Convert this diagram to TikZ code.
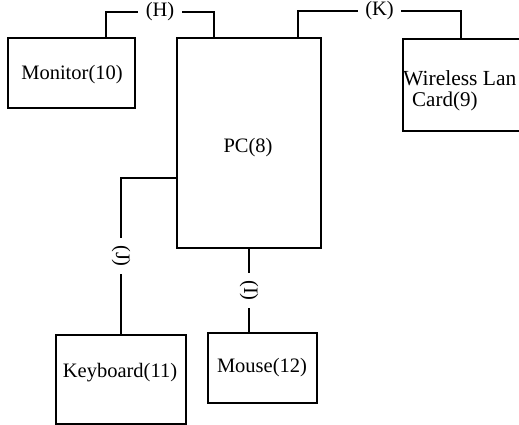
\documentclass[tikz,border=0pt]{standalone}
\usepackage{fontspec}
\setmainfont{Liberation Serif}
\begin{document}
\begin{tikzpicture}[x=1pt,y=-1pt,
  box/.style={draw,line width=1.9pt,rectangle,inner sep=0pt,font=\fontsize{20.5}{24}\selectfont},
  wire/.style={line width=1.9pt},
  lab/.style={fill=white,inner xsep=7.5pt,inner ysep=2pt,font=\fontsize{20.5}{24}\selectfont},
  txt/.style={inner sep=0pt,font=\fontsize{20.5}{24}\selectfont}]
\useasboundingbox (0,0) rectangle (519,425);
\clip (0,0) rectangle (519,425);
\node[box,minimum width=127pt,minimum height=70pt] (mon) at (71.5,73) {};
\node[txt] (mont) at (72,75) {Monitor(10)};
\node[box,minimum width=144pt,minimum height=210pt] (pc) at (249,143) {};
\node[txt] (pct) at (248,148) {PC(8)};
\node[box,minimum width=130pt,minimum height=92pt,anchor=north west] (wl) at (402,38) {};
\node[txt,anchor=west,font=\fontsize{21.5}{24}\selectfont] (wlt1) at (403,78) {Wireless Lan};
\node[txt,anchor=west,font=\fontsize{21}{24}\selectfont] (wlt2) at (412,101) {Card(9)};
\node[box,minimum width=130pt,minimum height=89pt,anchor=north west] (kb) at (55,334) {};
\node[txt] (kbt) at (120,373) {Keyboard(11)};
\node[box,minimum width=109pt,minimum height=70pt,anchor=north west] (ms) at (207,332) {};
\node[txt] (mst) at (262,368) {Mouse(12)};
% H
\draw[wire] ([xshift=-30pt]mon.north east) -- ++(0,-25) -| node[lab,pos=0.25]{(H)} ([xshift=38pt]pc.north west);
% K
\draw[wire] ([xshift=-24pt]pc.north east) -- ++(0,-26) -| node[lab,pos=0.25]{(K)} ([xshift=59pt]wl.north west);
% J
\draw[wire] ([yshift=-35pt]pc.west) -| node[lab,pos=0.75,rotate=-90]{(J)} (kb.north);
% I
\draw[wire] (pc.south) -- node[lab,rotate=-90]{(I)} (pc.south |- ms.north);
\end{tikzpicture}
\end{document}
